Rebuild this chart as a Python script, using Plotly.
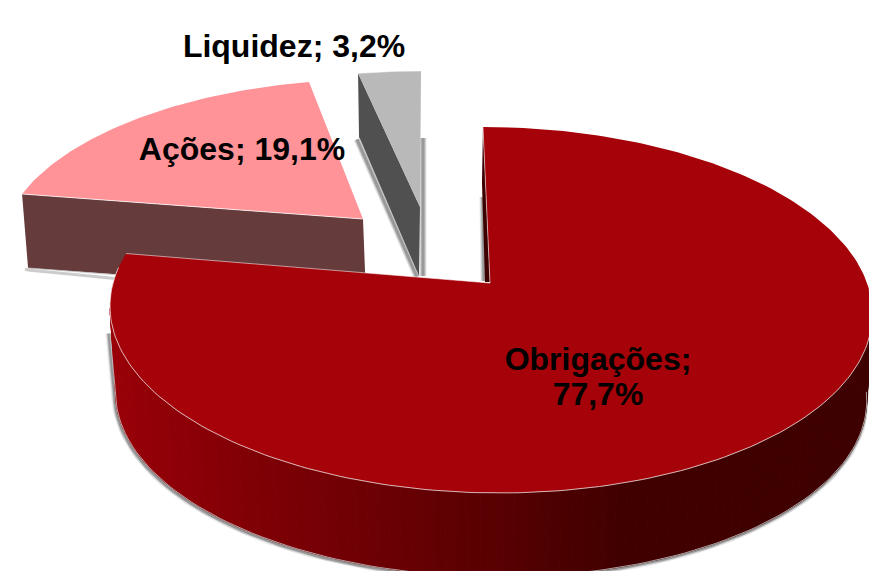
import numpy as np
import plotly.graph_objects as go

# ---- data ----
categories = ["Obrigações", "Ações", "Liquidez"]
shares = [77.7, 19.1, 3.2]
top_colors = ["#A50309", "#FF9398", "#B9B9B9"]
wall_colors = ["#3C0000", "#653B3C", "#505050"]

# ---- projection of the pie's plane onto the page ----
W, H = 869, 571
PX, PY, PERSP = 377.0, 179.0, 0.1475
# apex x/y, x-scale, y-scale, x-shear, y-shear for each exploded slice
GEOM = {
    "Obrigações": (490, 283, 1.0, 1.0, 0.045, 0.0),
    "Ações": (363, 219, 0.9447, 0.8954, -0.0532, -0.0039),
    "Liquidez": (420, 207, 0.957, 0.872, -0.0064, 0.0),
}
LABEL_POS = {
    "Obrigações": [(598, 362), (598, 397)],
    "Ações": (242, 152),
    "Liquidez": (294, 49),
}
GRAD_X = [110, 250, 390, 510, 620, 870]
GRAD_R = [154, 128, 106, 86, 66, 62]
GRAD_G = [0, 0, 0, 0, 0, 0]
GRAD_B = [8, 6, 4, 2, 0, 0]


def project(name, deg):
    t = np.radians(np.asarray(deg, dtype=float))
    u, v = np.sin(t), np.cos(t)
    d = 1 + PERSP * v
    px, py = PX * u / d, -PY * v / d
    ax, ay, sx, sy, shx, shy = GEOM[name]
    return ax + sx * px + shx * py, ay + sy * py + shy * px


def poly(fig, x, y, fill, line=None, lw=0):
    fig.add_trace(go.Scatter(
        x=list(x) + [x[0]], y=list(y) + [y[0]], mode="lines", fill="toself",
        fillcolor=fill, line=dict(color=line or fill, width=lw),
        hoverinfo="skip", showlegend=False))


def stroke(fig, x, y, color, width):
    fig.add_trace(go.Scatter(
        x=list(x), y=list(y), mode="lines", line=dict(color=color, width=width),
        hoverinfo="skip", showlegend=False))


total = sum(shares)
edges = np.cumsum([0] + shares) / total * 360.0
spans = {c: (edges[i], edges[i + 1]) for i, c in enumerate(categories)}

fig = go.Figure()

# ---- Ações ----
a0, a1 = spans["Ações"]
ax, ay = GEOM["Ações"][:2]
tx, ty = project("Ações", np.linspace(a0, a1, 60))
stroke(fig, [tx[0] + 3, tx[0] + 6, 120], [ty[0] + 75, ty[0] + 76, ty[0] + 85], "rgba(0,0,0,0.2)", 3)
poly(fig, [tx[0], ax, ax + 2, ax + 2, tx[0] + 6], [ty[0], ay, ay + 52, ay + 73, ty[0] + 74],
     wall_colors[1])
stroke(fig, [tx[0] + 6, 120], [ty[0] + 74, ty[0] + 81], "rgba(190,190,190,0.8)", 1)
poly(fig, list(tx) + [ax], list(ty) + [ay], top_colors[1])
stroke(fig, [tx[0], ax], [ty[0], ay], "rgba(255,255,255,0.75)", 1)

# ---- Liquidez ----
l0, l1 = spans["Liquidez"]
lx, ly = GEOM["Liquidez"][:2]
qx, qy = project("Liquidez", np.linspace(l0, l1, 12))
for w, a in ((7, 0.10), (5, 0.14), (3, 0.22)):
    stroke(fig, [qx[0] - 1, lx - 3], [qy[0] + 66, ly + 70], f"rgba(0,0,0,{a})", w)
    stroke(fig, [lx + 3, lx + 3], [qy[-1] + 67, ly + 69], f"rgba(0,0,0,{a})", w)
poly(fig, [qx[0], lx, lx - 1, qx[0] + 1], [qy[0], ly, ly + 70, qy[0] + 64], wall_colors[2])
stroke(fig, [qx[0] + 1, lx - 1], [qy[0] + 64, ly + 70], "rgba(210,210,210,0.8)", 1)
poly(fig, list(qx) + [lx], list(qy) + [ly], top_colors[2])
stroke(fig, list(qx), list(qy), "rgba(255,255,255,0.5)", 1)

# ---- Obrigações ----
m0, m1 = spans["Obrigações"]
mx, my = GEOM["Obrigações"][:2]
DEPTH, INSET = 87, 0.985
TANGENT_L, TANGENT_R = 262.0, 97.0
for w, a in ((7, 0.10), (5, 0.14), (3, 0.22)):
    stroke(fig, [mx - 7, mx - 6], [my - 86, my - 2], f"rgba(0,0,0,{a})", w)

ang = np.arange(TANGENT_R, TANGENT_L + 0.1, 1.5)
top_x, top_y = project("Obrigações", ang)
bot_x = mx + (top_x - mx) * INSET
bot_y = my + (top_y - my) * INSET + DEPTH
for w, a in ((7, 0.08), (5, 0.14), (3, 0.25)):
    stroke(fig, [top_x[0] - 1] + list(bot_x - 1) + [top_x[-1] - 1],
           [top_y[0] + 30] + list(bot_y + 1) + [top_y[-1] + 25], f"rgba(0,0,0,{a})", w)
for i in range(len(ang) - 1):
    xm = (top_x[i] + top_x[i + 1]) / 2
    col = "rgb(%d,%d,%d)" % (np.interp(xm, GRAD_X, GRAD_R), np.interp(xm, GRAD_X, GRAD_G),
                             np.interp(xm, GRAD_X, GRAD_B))
    poly(fig, [top_x[i], top_x[i + 1], bot_x[i + 1], bot_x[i]],
         [top_y[i], top_y[i + 1], bot_y[i + 1], bot_y[i]], col, col, 1)
stroke(fig, list(bot_x) + [top_x[-1]], list(bot_y) + [top_y[-1] + 25], "rgba(200,200,200,0.8)", 1)

# inner wall sliver next to the apex
sx0, sy0 = project("Obrigações", [m0])
poly(fig, [sx0[0], mx, mx - 5, sx0[0] - 1], [sy0[0], my - 1, my - 1, sy0[0] + 56], wall_colors[0])

# top face
mx_arc, my_arc = project("Obrigações", np.linspace(m0, m1, 240))
poly(fig, list(mx_arc) + [mx], list(my_arc) + [my], top_colors[0])
front = np.linspace(92, 275, 160)
fx, fy = project("Obrigações", front)
stroke(fig, fx, fy, "rgba(240,225,225,0.8)", 1)
stroke(fig, [mx_arc[-1], mx, mx_arc[0]], [my_arc[-1], my, my_arc[0]], "rgba(255,255,255,0.55)", 1)

# ---- labels ----
names = {c: f"{c}; " for c in categories}
values = {c: f"{v:.1f}%".replace(".", ",") for c, v in zip(categories, shares)}
txt_x, txt_y, txt = [], [], []
for c in categories:
    pos = LABEL_POS[c]
    if isinstance(pos, list):
        txt_x += [pos[0][0], pos[1][0]]
        txt_y += [pos[0][1], pos[1][1]]
        txt += [f"{c};", values[c]]
    else:
        txt_x.append(pos[0])
        txt_y.append(pos[1])
        txt.append(names[c] + values[c])
fig.add_trace(go.Scatter(
    x=txt_x, y=txt_y, text=txt, mode="text", textposition="middle center",
    textfont=dict(family="Liberation Sans", size=32, color="#000000", weight="bold"),
    hoverinfo="skip", showlegend=False))

fig.update_layout(
    width=W, height=H, margin=dict(l=0, r=0, t=0, b=0), autosize=False,
    paper_bgcolor="#FFFFFF", plot_bgcolor="#FFFFFF", showlegend=False,
    xaxis=dict(range=[0, W], visible=False, fixedrange=True),
    yaxis=dict(range=[H, 0], visible=False, fixedrange=True),
)
fig.write_html("out.html", config={"displayModeBar": False},
               post_script="document.body.style.margin='0';document.body.style.overflow='hidden';")
